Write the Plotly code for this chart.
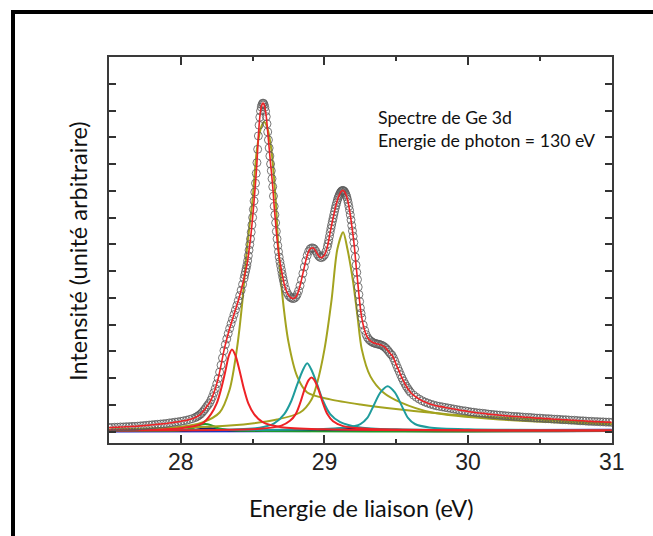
import plotly.graph_objects as go

energy = [
    27.50, 27.52, 27.54, 27.56, 27.58, 27.60, 27.62, 27.64, 27.66, 27.68,
    27.70, 27.72, 27.74, 27.76, 27.78, 27.80, 27.82, 27.84, 27.86, 27.88,
    27.90, 27.92, 27.94, 27.96, 27.98, 28.00, 28.02, 28.04, 28.06, 28.08,
    28.10, 28.11, 28.12, 28.13, 28.14, 28.15, 28.16, 28.17, 28.18, 28.19,
    28.20, 28.21, 28.22, 28.23, 28.24, 28.25, 28.26, 28.27, 28.28, 28.29,
    28.30, 28.31, 28.32, 28.33, 28.34, 28.35, 28.36, 28.37, 28.38, 28.39,
    28.40, 28.41, 28.42, 28.43, 28.44, 28.445, 28.45, 28.455, 28.46, 28.465,
    28.47, 28.475, 28.48, 28.485, 28.49, 28.495, 28.50, 28.505, 28.51, 28.515,
    28.52, 28.525, 28.53, 28.535, 28.54, 28.545, 28.55, 28.555, 28.56, 28.565,
    28.57, 28.575, 28.58, 28.585, 28.59, 28.595, 28.60, 28.605, 28.61, 28.615,
    28.62, 28.625, 28.63, 28.635, 28.64, 28.645, 28.65, 28.655, 28.66, 28.665,
    28.67, 28.675, 28.68, 28.685, 28.69, 28.695, 28.70, 28.705, 28.71, 28.715,
    28.72, 28.73, 28.74, 28.75, 28.76, 28.77, 28.78, 28.79, 28.80, 28.81,
    28.82, 28.83, 28.84, 28.85, 28.86, 28.87, 28.88, 28.89, 28.90, 28.91,
    28.92, 28.93, 28.94, 28.95, 28.96, 28.97, 28.98, 28.99, 29.00, 29.01,
    29.02, 29.025, 29.03, 29.035, 29.04, 29.045, 29.05, 29.055, 29.06, 29.065,
    29.07, 29.075, 29.08, 29.085, 29.09, 29.095, 29.10, 29.105, 29.11, 29.115,
    29.12, 29.125, 29.13, 29.135, 29.14, 29.145, 29.15, 29.155, 29.16, 29.165,
    29.17, 29.175, 29.18, 29.185, 29.19, 29.195, 29.20, 29.205, 29.21, 29.215,
    29.22, 29.225, 29.23, 29.235, 29.24, 29.245, 29.25, 29.255, 29.26, 29.27,
    29.28, 29.29, 29.30, 29.31, 29.32, 29.33, 29.34, 29.35, 29.36, 29.37,
    29.38, 29.39, 29.40, 29.41, 29.42, 29.43, 29.44, 29.45, 29.46, 29.47,
    29.48, 29.49, 29.50, 29.51, 29.52, 29.53, 29.54, 29.55, 29.56, 29.57,
    29.58, 29.59, 29.60, 29.62, 29.64, 29.66, 29.68, 29.70, 29.72, 29.74,
    29.76, 29.78, 29.80, 29.82, 29.84, 29.86, 29.88, 29.90, 29.92, 29.94,
    29.96, 29.98, 30.00, 30.02, 30.04, 30.06, 30.08, 30.10, 30.12, 30.14,
    30.16, 30.18, 30.20, 30.22, 30.24, 30.26, 30.28, 30.30, 30.32, 30.34,
    30.36, 30.38, 30.40, 30.42, 30.44, 30.46, 30.48, 30.50, 30.52, 30.54,
    30.56, 30.58, 30.60, 30.62, 30.64, 30.66, 30.68, 30.70, 30.72, 30.74,
    30.76, 30.78, 30.80, 30.82, 30.84, 30.86, 30.88, 30.90, 30.92, 30.94,
    30.96, 30.98, 31.00,
]
intensity = [
    0.15, 0.15, 0.16, 0.16, 0.17, 0.17, 0.18, 0.18, 0.19, 0.19,
    0.20, 0.21, 0.22, 0.23, 0.24, 0.25, 0.26, 0.27, 0.28, 0.29,
    0.30, 0.32, 0.33, 0.35, 0.36, 0.38, 0.40, 0.42, 0.45, 0.48,
    0.52, 0.55, 0.58, 0.62, 0.66, 0.72, 0.78, 0.85, 0.93, 1.00,
    1.07, 1.18, 1.30, 1.45, 1.60, 1.78, 1.98, 2.22, 2.48, 2.75,
    3.02, 3.25, 3.46, 3.66, 3.85, 4.03, 4.20, 4.37, 4.54, 4.71,
    4.89, 5.08, 5.28, 5.50, 5.72, 5.85, 5.97, 6.09, 6.22, 6.38,
    6.57, 6.78, 6.99, 7.20, 7.45, 7.72, 8.00, 8.30, 8.62, 8.95,
    9.28, 9.65, 10.05, 10.55, 11.05, 11.45, 11.75, 11.98, 12.13, 12.22,
    12.27, 12.27, 12.22, 12.12, 11.97, 11.77, 11.50, 11.20, 10.90, 10.60,
    10.30, 10.00, 9.75, 9.45, 9.15, 8.80, 8.42, 8.10, 7.80, 7.48,
    7.20, 6.95, 6.72, 6.52, 6.35, 6.20, 6.05, 5.90, 5.76, 5.63,
    5.51, 5.33, 5.19, 5.09, 5.03, 4.99, 4.97, 4.98, 5.03, 5.12,
    5.26, 5.45, 5.67, 5.91, 6.15, 6.38, 6.58, 6.73, 6.82, 6.86,
    6.86, 6.82, 6.74, 6.64, 6.56, 6.51, 6.50, 6.54, 6.60, 6.72,
    6.90, 7.02, 7.15, 7.30, 7.45, 7.59, 7.72, 7.85, 7.97, 8.10,
    8.22, 8.34, 8.45, 8.55, 8.65, 8.73, 8.80, 8.86, 8.92, 8.96,
    8.99, 9.01, 9.01, 8.99, 8.96, 8.91, 8.85, 8.77, 8.68, 8.56,
    8.42, 8.27, 8.10, 7.91, 7.70, 7.50, 7.30, 7.07, 6.82, 6.52,
    6.22, 5.95, 5.68, 5.40, 5.12, 4.86, 4.62, 4.42, 4.25, 3.98,
    3.78, 3.62, 3.51, 3.44, 3.39, 3.35, 3.32, 3.30, 3.28, 3.27,
    3.26, 3.24, 3.22, 3.19, 3.15, 3.10, 3.04, 2.97, 2.90, 2.85,
    2.75, 2.63, 2.50, 2.37, 2.25, 2.12, 2.00, 1.89, 1.79, 1.69,
    1.61, 1.53, 1.46, 1.36, 1.28, 1.21, 1.15, 1.10, 1.06, 1.02,
    0.99, 0.96, 0.94, 0.92, 0.90, 0.88, 0.86, 0.84, 0.82, 0.80,
    0.78, 0.77, 0.75, 0.73, 0.72, 0.70, 0.69, 0.68, 0.67, 0.65,
    0.64, 0.63, 0.62, 0.61, 0.60, 0.59, 0.58, 0.57, 0.56, 0.56,
    0.55, 0.54, 0.53, 0.53, 0.52, 0.51, 0.50, 0.50, 0.49, 0.48,
    0.48, 0.47, 0.46, 0.46, 0.45, 0.44, 0.44, 0.43, 0.42, 0.42,
    0.41, 0.40, 0.40, 0.39, 0.38, 0.38, 0.37, 0.37, 0.36, 0.36,
    0.35, 0.35, 0.34,
]

# ---------------- fitted components ----------------
olive1_x = [27.50, 27.95, 28.15, 28.27, 28.34, 28.39, 28.43, 28.46, 28.50, 28.53,
            28.56, 28.58, 28.60, 28.63, 28.66, 28.68, 28.71, 28.75, 28.81, 28.88,
            29.04, 29.25, 29.53, 29.87, 30.22, 31.00]
olive1_y = [0.07, 0.15, 0.34, 0.71, 1.57, 3.07, 4.94, 6.82, 8.69, 10.56,
            11.39, 11.57, 11.39, 10.56, 8.69, 6.82, 4.94, 3.33, 2.06, 1.46,
            1.20, 1.01, 0.82, 0.64, 0.52, 0.30]

olive2_x = [27.50, 28.34, 28.67, 28.83, 28.91, 28.95, 29.00, 29.05, 29.09, 29.13,
            29.16, 29.20, 29.23, 29.26, 29.32, 29.41, 29.53, 29.75, 30.22, 31.00]
olive2_y = [0.07, 0.22, 0.45, 0.71, 1.20, 1.83, 3.07, 4.94, 6.82, 7.45,
            6.82, 5.58, 4.31, 3.07, 2.06, 1.46, 1.09, 0.71, 0.45, 0.26]

red1_x = [27.50, 28.00, 28.15, 28.21, 28.25, 28.28, 28.31, 28.335, 28.356, 28.38,
          28.41, 28.44, 28.47, 28.51, 28.57, 28.70, 29.00, 31.00]
red1_y = [0.04, 0.12, 0.30, 0.65, 1.05, 1.58, 2.25, 2.85, 3.07, 2.85,
          2.25, 1.58, 1.05, 0.65, 0.35, 0.16, 0.08, 0.04]

red2_x = [27.50, 28.55, 28.70, 28.76, 28.80, 28.83, 28.86, 28.89, 28.91, 28.93,
          28.96, 28.99, 29.02, 29.06, 29.13, 29.30, 31.00]
red2_y = [0.04, 0.10, 0.22, 0.40, 0.65, 1.05, 1.55, 1.92, 2.02, 1.92,
          1.55, 1.05, 0.65, 0.38, 0.20, 0.10, 0.04]

teal1_x = [27.50, 28.40, 28.55, 28.65, 28.72, 28.77, 28.81, 28.85, 28.88, 28.91,
           28.95, 28.99, 29.04, 29.11, 29.25, 29.50, 31.00]
teal1_y = [0.05, 0.08, 0.14, 0.30, 0.65, 1.15, 1.75, 2.30, 2.55, 2.30,
           1.75, 1.15, 0.65, 0.35, 0.15, 0.08, 0.05]

teal2_x = [27.50, 28.90, 29.15, 29.25, 29.30, 29.34, 29.39, 29.44, 29.49, 29.54,
           29.58, 29.63, 29.73, 30.00, 31.00]
teal2_y = [0.05, 0.08, 0.15, 0.28, 0.52, 0.94, 1.46, 1.69, 1.46, 0.94,
           0.52, 0.28, 0.15, 0.08, 0.05]

green_x = [27.50, 28.00, 28.08, 28.13, 28.17, 28.21, 28.26, 28.35, 31.00]
green_y = [0.03, 0.05, 0.12, 0.24, 0.28, 0.24, 0.12, 0.05, 0.03]

navy_x = [27.50, 28.05, 28.20, 28.35, 28.95, 29.17, 29.40, 31.00]
navy_y = [0.02, 0.04, 0.12, 0.04, 0.04, 0.12, 0.04, 0.02]

base_x = [27.50, 31.00]
base_y = [0.00, 0.06]

# ---------------- text ----------------
x_title = "Energie de liaison (eV)"
y_title = "Intensité (unité arbitraire)"
note_1 = "Spectre de Ge 3d"
note_2 = "Energie de photon = 130 eV"
x_tick_vals = [28, 29, 30, 31]
x_tick_text = ["28", "29", "30", "31"]

OLIVE = "#a3a31f"
TEAL = "#1f9c9c"
RED = "#ee2226"

fig = go.Figure()

def comp(x, y, color, width=2.0):
    fig.add_trace(go.Scatter(x=x, y=y, mode="lines",
                             line=dict(color=color, width=width, shape="spline", smoothing=0.8),
                             hoverinfo="skip", showlegend=False))

comp(base_x, base_y, "#1515c8", 2.2)
comp(navy_x, navy_y, "#101060", 2.0)
comp(green_x, green_y, "#1f9a2a", 2.0)
comp(olive1_x, olive1_y, OLIVE)
comp(olive2_x, olive2_y, OLIVE)
comp(teal1_x, teal1_y, TEAL)
comp(teal2_x, teal2_y, TEAL)
comp(red1_x, red1_y, RED)
comp(red2_x, red2_y, RED)

fig.add_trace(go.Scatter(x=energy, y=intensity, mode="markers",
                         marker=dict(symbol="circle-open", size=8, color="rgba(90,90,90,0.82)",
                                     line=dict(width=1)),
                         hoverinfo="skip", showlegend=False))
fig.add_trace(go.Scatter(x=energy, y=intensity, mode="lines",
                         line=dict(color=RED, width=1.6, shape="spline", smoothing=0.6),
                         hoverinfo="skip", showlegend=False))

L, T, W, H = 109, 57, 503, 386
FIG_W, FIG_H = 653, 536

def px(xp):
    return (xp - L) / W

def py(yp):
    return (T + H - yp) / H

fig.update_layout(
    width=FIG_W, height=FIG_H,
    margin=dict(l=L, r=FIG_W - L - W, t=T, b=FIG_H - T - H, pad=0),
    paper_bgcolor="white", plot_bgcolor="white",
    showlegend=False,
    xaxis=dict(range=[27.5, 31.002], tickmode="array", tickvals=x_tick_vals, ticktext=x_tick_text,
               ticks="inside", ticklen=8, tickwidth=1.5, tickcolor="#333",
               minor=dict(dtick=0.5, tick0=27.5, ticks="inside", ticklen=4, tickwidth=1.5, tickcolor="#333"),
               showline=True, linecolor="#3a3a3a", linewidth=2, mirror="ticks",
               showgrid=False, zeroline=False,
               tickfont=dict(family="Liberation Sans, Arial", size=23, color="#222"),
               ticklabelstandoff=-3),
    yaxis=dict(range=[-0.43, 14.0], tick0=0, dtick=1,
               ticks="inside", ticklen=7, tickwidth=1.5, tickcolor="#333",
               showticklabels=False,
               showline=True, linecolor="#3a3a3a", linewidth=2, mirror="ticks",
               showgrid=False, zeroline=False),
    annotations=[
        dict(text=note_1, x=px(376), y=py(117), xref="paper", yref="paper",
             xanchor="left", yanchor="middle", showarrow=False,
             font=dict(family="Lato", size=17.7, color="#111")),
        dict(text=note_2, x=px(376), y=py(140), xref="paper", yref="paper",
             xanchor="left", yanchor="middle", showarrow=False,
             font=dict(family="Lato", size=17.7, color="#111")),
        dict(text=x_title, x=px(361), y=py(508), xref="paper", yref="paper",
             xanchor="center", yanchor="middle", showarrow=False,
             font=dict(family="Lato", size=23.5, color="#111")),
        dict(text=y_title, x=px(78), y=py(251), xref="paper", yref="paper",
             xanchor="center", yanchor="middle", showarrow=False, textangle=-90,
             font=dict(family="Lato", size=23.5, color="#111")),
    ],
    shapes=[dict(type="rect", xref="paper", yref="paper",
                 x0=px(13), x1=px(700), y0=py(600), y1=py(12),
                 line=dict(color="black", width=4), fillcolor="rgba(0,0,0,0)", layer="above")],
)

fig.write_html("out.html", config={"displayModeBar": False},
               post_script="document.body.style.margin='0px';")
